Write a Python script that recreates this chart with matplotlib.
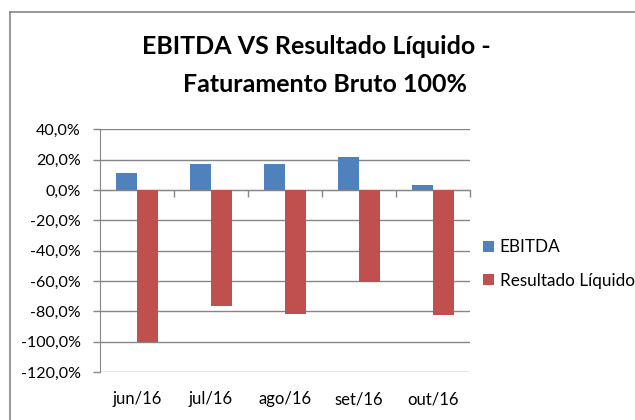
import matplotlib
matplotlib.use("Agg")
import matplotlib.pyplot as plt
from matplotlib.lines import Line2D
import numpy as np

categories = ["jun/16", "jul/16", "ago/16", "set/16", "out/16"]
ebitda = [10.9, 16.8, 16.8, 21.8, 3.1]
resultado = [-100.0, -76.3, -81.6, -60.7, -82.2]
yticks = [40, 20, 0, -20, -40, -60, -80, -100, -120]
series_names = ["EBITDA", "Resultado Líquido"]
title_lines = ["EBITDA VS Resultado Líquido -", "Faturamento Bruto 100%"]

plt.rcParams['font.family'] = ['Lato', 'DejaVu Sans']

fig = plt.figure(figsize=(6.35, 4.2), dpi=100)
ax = fig.add_axes([100/635, 1-372/420, 370/635, (372-129.3)/420])

x = np.arange(len(categories))
w = 0.29
b1 = ax.bar(x - w/2, ebitda, w, color="#4F81BD", label=series_names[0], zorder=3)
b2 = ax.bar(x + w/2, resultado, w, color="#C0504D", label=series_names[1], zorder=3)

ax.set_xlim(-0.5, len(categories) - 0.5)
ax.set_ylim(-120, 40)
ax.set_yticks(yticks)
ax.set_yticklabels([f"{v:.1f}%".replace(".", ",") for v in yticks])
ax.yaxis.grid(True, color="#868686", linewidth=1.0, zorder=0)
ax.tick_params(axis='y', length=5, width=1, color="#868686", pad=9, labelsize=11.5, labelcolor="#000000")

for s in ["top", "right"]:
    ax.spines[s].set_visible(False)
ax.spines["left"].set_color("#868686")
ax.spines["bottom"].set_position(("data", 0))
ax.spines["bottom"].set_color("#868686")
ax.set_xticks(np.arange(len(categories)) + 0.5)
ax.set_xticklabels([])
ax.tick_params(axis='x', length=5, width=1, color="#868686", direction='out')

sec = ax.secondary_xaxis(0)
sec.set_xticks(x)
sec.set_xticklabels(categories)
sec.tick_params(length=0, pad=14, labelsize=12, labelcolor="#000000")
sec.spines["bottom"].set_visible(False)

fig.text(316/635, 1-46/420, title_lines[0], ha="center", va="center", fontsize=18,
         fontweight="bold")
fig.text(325/635, 1-85/420, title_lines[1], ha="center", va="center", fontsize=18,
         fontweight="bold")

fig.legend(handles=[b1, b2], labels=series_names, loc="center left",
           bbox_to_anchor=(468/635, 1-264/420), frameon=False, fontsize=12.3,
           handlelength=0.6, handleheight=0.6, handletextpad=0.35,
           labelspacing=1.0)

# chart border lines
fig.add_artist(Line2D([9.5/635, 1], [1-12/420, 1-12/420], transform=fig.transFigure,
                      color="#868686", linewidth=1.2))
fig.add_artist(Line2D([9.5/635, 9.5/635], [0, 1-12/420], transform=fig.transFigure,
                      color="#868686", linewidth=1.2))

fig.savefig("out.png", dpi=100)
